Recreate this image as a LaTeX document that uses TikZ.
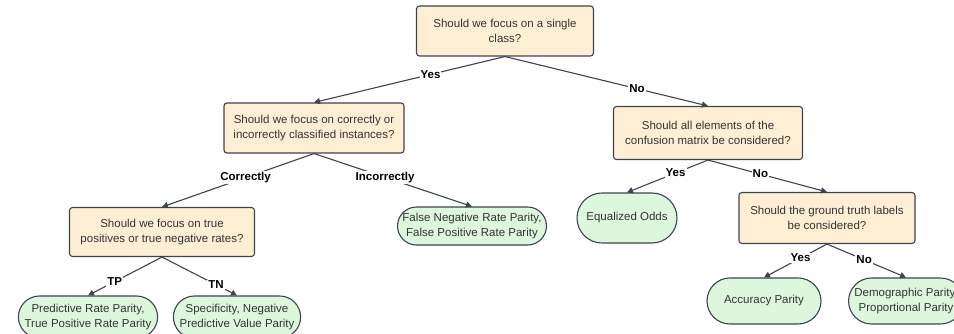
\documentclass[tikz,border=0pt]{standalone}
\usepackage{fontspec}
\setmainfont{Liberation Sans}
\usetikzlibrary{positioning,shapes.misc,arrows.meta}

\definecolor{qfill}{HTML}{FEEFD4}
\definecolor{leaffill}{HTML}{DDF7DD}
\definecolor{edgegray}{HTML}{3D4450}
\definecolor{txtgray}{HTML}{333333}

\tikzset{
  question/.style={draw=edgegray,line width=1.1pt,fill=qfill,rounded corners=3pt,
    align=center,text=txtgray,minimum width=180pt,minimum height=50pt,
    font=\fontsize{11.5}{14.5}\selectfont},
  leaf/.style={rounded rectangle,draw=edgegray,line width=1.1pt,fill=leaffill,
    align=center,text=txtgray,inner xsep=2pt,minimum height=42pt,
    font=\fontsize{11.5}{14.5}\selectfont},
  branch/.style={draw=edgegray,line width=1.1pt,-{Triangle[length=6pt,width=6pt]}},
  answer/.style={fill=white,inner sep=1pt,text=black,
    font=\bfseries\fontsize{11.5}{14}\selectfont}
}

\begin{document}
\begin{tikzpicture}[x=1pt,y=-1pt,on grid]
       \useasboundingbox (0,0) rectangle (954,334);
       \node [question,minimum width=177pt] (single) at (505,31) {Should we focus on a single\\class?};
       \node [question,below left=97pt and 191pt of single] (correct) {Should we focus on correctly or\\incorrectly classified instances?};
       \node [question,below right=102pt and 203pt of single,minimum width=189pt,minimum height=53pt] (confusion) {Should all elements of the\\confusion matrix be considered?};
       \node [question,below left=104pt and 152pt of correct,minimum width=185pt,minimum height=49pt] (rates) {Should we focus on true\\positives or true negative rates?};
       \node [leaf,below right=98pt and 158pt of correct,minimum width=153pt,minimum height=38pt] (fnr) {False Negative Rate Parity,\\False Positive Rate Parity};
       \node [leaf,below left=85pt and 81pt of confusion,minimum width=104pt,minimum height=50pt] (eqodds) {Equalized Odds};
       \node [question,below right=85pt and 119pt of confusion,minimum width=176pt,minimum height=51pt] (truth) {Should the ground truth labels\\be considered?};
       \node [leaf,below left=85pt and 74pt of rates,minimum width=139pt] (prp) {Predictive Rate Parity,\\True Positive Rate Parity};
       \node [leaf,below right=85pt and 75pt of rates,minimum width=124pt] (spec) {Specificity, Negative\\Predictive Value Parity};
       \node [leaf,below left=83pt and 63pt of truth,minimum width=118pt,minimum height=46pt] (accuracy) {Accuracy Parity};
       \node [leaf,below right=83pt and 79pt of truth,minimum width=112pt,minimum height=46pt] (demo) {Demographic Parity,\\Proportional Parity};
       \draw [branch] (single.south) -- node [answer,pos=0.39] {Yes} (correct.north);
       \draw [branch] (single.south) -- node [answer,pos=0.65] {No} (confusion.north);
       \draw [branch] (correct.south) -- node [answer,pos=0.45] {Correctly} (rates.north);
       \draw [branch] (correct.south) -- node [answer,pos=0.45] {Incorrectly} (fnr.north);
       \draw [branch] (rates.south) -- node [answer,pos=0.64] {TP} (prp.north);
       \draw [branch] (rates.south) -- node [answer,pos=0.72] {TN} (spec.north);
       \draw [branch] (confusion.south) -- node [answer,pos=0.4] {Yes} (eqodds.north);
       \draw [branch] (confusion.south) -- node [answer,pos=0.44] {No} (truth.north);
       \draw [branch] (truth.south) -- node [answer,pos=0.42] {Yes} (accuracy.north);
       \draw [branch] (truth.south) -- node [answer,pos=0.47] {No} (demo.north);
     \end{tikzpicture}
\end{document}
